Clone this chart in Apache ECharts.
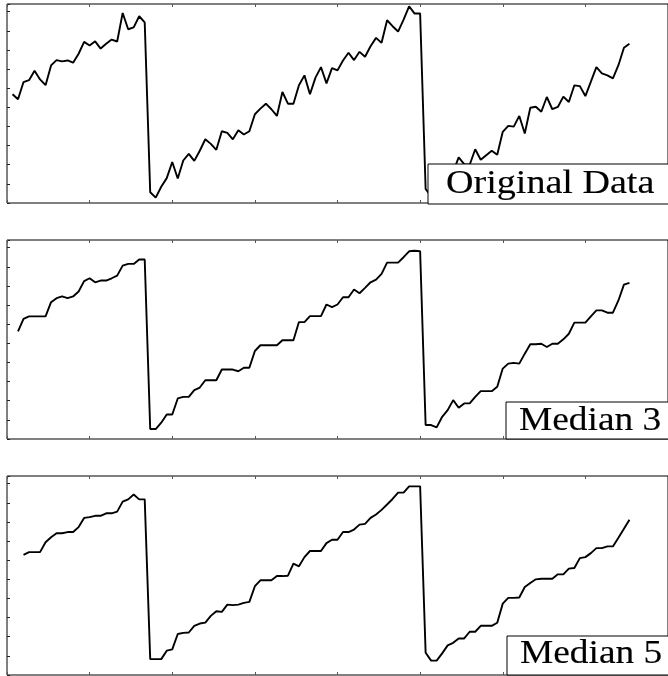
<!DOCTYPE html>
<html>
<head>
<meta charset="utf-8">
<script src="https://cdn.jsdelivr.net/npm/echarts@6/dist/echarts.min.js"></script>
<style>
  html, body { margin: 0; padding: 0; background: #fff; }
  #chart { width: 668px; height: 676px; }
</style>
</head>
<body>
<div id="chart"></div>
<script>
// sample index runs 1..113; the median curves lose their first points
const original = [
  56.8, 54.2, 63.2, 64.2, 69.1, 64.6, 61.6, 71.9, 74.7, 74.0,
  74.5, 73.3, 78.0, 84.2, 82.3, 84.5, 80.7, 83.2, 85.4, 84.4,
  99.3, 90.8, 91.8, 97.6, 94.4, 5.6, 2.8, 8.5, 13.0, 21.4,
  12.8, 22.2, 25.7, 22.0, 27.3, 33.3, 30.9, 27.8, 37.5, 36.6,
  33.3, 38.0, 35.8, 37.5, 46.4, 49.3, 51.9, 49.0, 45.5, 58.0,
  51.9, 51.9, 61.5, 66.7, 56.8, 65.5, 71.0, 62.5, 70.5, 69.3,
  74.5, 78.5, 74.7, 79.0, 76.4, 81.9, 86.3, 83.7, 95.5, 92.4,
  89.6, 95.8, 102.8, 99.0, 99.0, 7.3, 3.5, 6.1, 11.6, 15.1,
  16.3, 23.8, 20.3, 20.0, 28.1, 22.6, 25.0, 27.3, 25.2, 37.2,
  40.3, 39.9, 45.5, 36.3, 49.8, 50.3, 47.7, 55.4, 49.0, 50.2,
  55.6, 52.8, 61.5, 61.1, 55.9, 63.4, 71.0, 67.7, 66.7, 65.1,
  72.0, 81.1, 83.2
];
const median3 = [
  56.3, 62.8, 64.1, 64.1, 64.1, 64.1, 71.5, 73.6, 74.5, 73.6,
  74.5, 77.1, 82.5, 84.0, 81.9, 82.8, 82.8, 84.0, 85.4, 90.6,
  91.5, 91.5, 93.8, 93.8, 5.2, 5.2, 8.5, 12.8, 12.8, 21.2,
  22.0, 22.0, 25.5, 26.9, 30.7, 30.7, 30.7, 36.3, 36.3, 36.3,
  35.4, 37.2, 37.2, 46.0, 49.0, 49.0, 49.0, 49.0, 51.6, 51.6,
  51.6, 61.1, 61.1, 64.2, 64.2, 64.2, 70.3, 68.9, 70.3, 74.1,
  74.1, 78.1, 76.2, 79.0, 81.9, 83.3, 86.3, 92.2, 92.2, 92.2,
  95.0, 98.1, 98.4, 98.1, 7.3, 7.3, 6.1, 11.6, 15.1, 20.3,
  16.3, 18.6, 18.6, 22.0, 25.0, 25.0, 25.0, 27.3, 36.8, 39.4,
  39.8, 39.4, 44.6, 49.5, 49.5, 49.8, 48.1, 49.8, 49.8, 52.1,
  55.0, 60.8, 60.8, 60.8, 64.1, 67.2, 67.2, 66.0, 66.0, 72.4,
  80.7, 81.6
];
const median5 = [
  62.8, 64.2, 64.2, 64.2, 69.4, 72.0, 74.1, 74.1, 74.7, 74.7,
  77.3, 82.1, 82.5, 83.2, 83.2, 84.5, 84.5, 85.4, 90.6, 91.8,
  94.3, 91.8, 91.8, 8.3, 8.3, 8.3, 12.7, 13.4, 21.4, 22.0,
  22.2, 25.7, 26.9, 27.4, 30.9, 33.3, 33.0, 36.8, 36.5, 36.8,
  37.7, 38.2, 46.4, 49.5, 49.5, 49.5, 51.7, 51.7, 51.9, 58.2,
  56.8, 61.6, 64.8, 64.8, 64.8, 68.9, 70.7, 70.7, 74.7, 74.7,
  76.0, 78.6, 79.0, 82.1, 83.9, 86.3, 89.1, 92.0, 95.3, 95.3,
  98.6, 98.6, 98.6, 11.6, 7.5, 7.5, 11.3, 15.5, 16.8, 19.1,
  19.1, 22.6, 22.6, 25.7, 25.7, 25.7, 27.3, 37.3, 40.3, 40.3,
  40.5, 46.0, 48.1, 50.0, 50.3, 50.3, 50.3, 52.6, 52.6, 55.6,
  55.9, 61.1, 61.6, 63.7, 66.3, 66.3, 67.2, 67.2, 71.7, 76.4,
  81.1
];
const panelLabels = ['Original Data', 'Median 3', 'Median 5'];
const firstIndex = [1, 2, 3];
const xRange = { min: 0, max: 120, interval: 15 };
const yRange = { min: 0, max: 104, interval: 10 };

const panels = [original, median3, median5];
const gridTops = [4, 240, 476];
const gridHeight = 199;

// label boxes: [rect x, rect y, rect h, text x, text center y, scaleX]
const boxes = [
  [428, 164, 40, 446, 184, 1.12],
  [506, 402, 37, 519, 421, 1.1],
  [507, 636, 39, 520, 654, 1.1]
];

const toPoints = (vals, start) => vals.map((v, k) => [start + k, v]);

const chart = echarts.init(document.getElementById('chart'), null, { renderer: 'canvas' });

const grid = gridTops.map(top => ({
  left: 7, top: top, width: 664, height: gridHeight,
  show: true, borderColor: '#000', borderWidth: 1, containLabel: false
}));

const xAxis = [];
gridTops.forEach((_, g) => {
  ['bottom', 'top'].forEach(pos => {
    xAxis.push({
      type: 'value', gridIndex: g, position: pos,
      min: xRange.min, max: xRange.max, interval: xRange.interval,
      axisLine: { show: false },
      axisTick: { show: true, inside: true, length: 3, lineStyle: { color: '#555' } },
      axisLabel: { show: false },
      splitLine: { show: false }
    });
  });
});

const yAxis = gridTops.map((_, g) => ({
  type: 'value', gridIndex: g,
  min: yRange.min, max: yRange.max, interval: yRange.interval,
  axisLine: { show: false },
  axisTick: { show: true, inside: true, length: 3, lineStyle: { color: '#222' } },
  axisLabel: { show: false },
  splitLine: { show: false }
}));

const series = panels.map((vals, g) => ({
  type: 'line',
  xAxisIndex: g * 2, yAxisIndex: g,
  data: toPoints(vals, firstIndex[g]),
  symbol: 'none',
  lineStyle: { color: '#000', width: 1.9 },
  animation: false
}));

const graphic = [];
boxes.forEach((b, k) => {
  graphic.push({
    type: 'rect', z: 100,
    shape: { x: b[0], y: b[1], width: 260, height: b[2] },
    style: { fill: '#fff', stroke: '#000', lineWidth: 1 }
  });
  graphic.push({
    type: 'text', z: 101, x: b[3], y: b[4], scaleX: b[5],
    style: {
      text: panelLabels[k],
      font: '34px "Liberation Serif", serif',
      fill: '#000', stroke: '#000', lineWidth: 0.15,
      verticalAlign: 'middle', align: 'left'
    }
  });
});

chart.setOption({
  backgroundColor: '#fff',
  animation: false,
  grid, xAxis, yAxis, series, graphic
});
</script>
</body>
</html>
